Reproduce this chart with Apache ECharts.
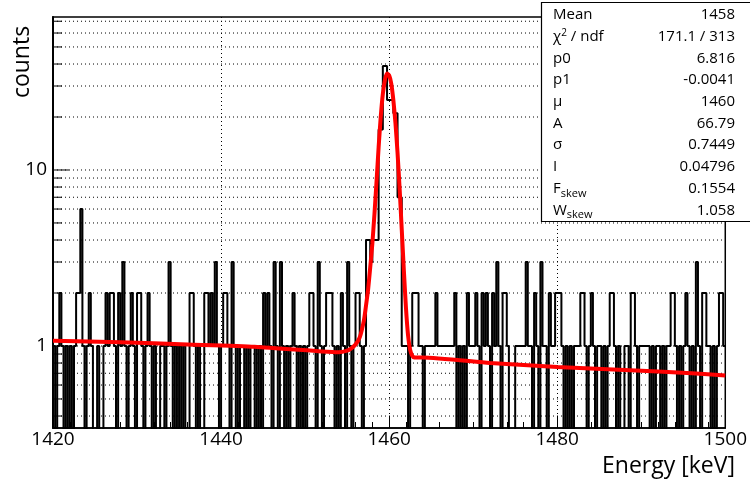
<!DOCTYPE html>
<html><head><meta charset="utf-8">
<script src="https://cdn.jsdelivr.net/npm/echarts@6/dist/echarts.min.js"></script>
<style>html,body{margin:0;padding:0;background:#fff}#c{width:750px;height:484px}</style>
</head><body><div id="c"></div>
<script>
const X_MIN = 1420, X_MAX = 1500, BIN_WIDTH = 0.25;
const Y_MIN = 0.342, Y_MAX = 74;
// counts per 0.25 keV bin
const counts1420 = [1,0,1,2,1,0,1,0,1,0,1,2,2,6,1,0,1,2,1,0,
  0,1,0,0,1,2,1,2,2,1,0,2,1,3,1,0,1,2,1,0,
  2,2,1,0,1,2,1,0,1,0,0,1,1,0,1,3,1,0,1,0,
  1,0,1,0,0,2,2,1,0,1,0,0,2,2,1,2,1,3,1,0];
const counts1440 = [1,2,2,1,0,3,1,0,1,0,0,1,0,1,0,0,1,0,1,0,
  2,1,2,1,0,3,1,0,3,1,0,1,0,1,2,1,0,1,0,1,
  0,1,2,2,1,0,3,1,0,1,2,2,2,1,0,1,0,2,1,0,
  3,1,0,1,2,2,1,0,1,4,4,3,4,4,4,17,17,39,39,25];
const counts1460 = [25,25,21,21,7,7,1,1,1,0,1,2,2,2,1,1,0,1,1,1,
  1,1,2,1,1,1,1,1,1,1,1,2,0,1,0,1,0,2,1,1,
  1,2,1,0,2,1,2,1,0,2,1,3,1,0,2,2,1,0,0,0,
  1,1,1,1,1,3,1,1,0,2,1,0,3,1,1,0,2,1,1,2];
const counts1480 = [2,2,1,0,1,0,1,0,1,1,1,2,2,1,0,1,2,1,0,1,
  1,0,1,0,1,2,2,1,0,1,0,0,1,1,0,2,2,1,0,1,
  1,1,1,1,0,1,0,1,1,0,1,0,1,1,2,2,1,0,1,0,
  1,2,1,0,1,0,3,1,0,2,2,1,1,0,1,0,1,2,2,1];
// fit curve
const fitX = [1420,1428,1436,1444,1452,1454,1455,1455.5,1456,1456.5,1457,1457.25,1457.5,1457.75,1458,1458.25,1458.5,1458.75,1459,1459.25,1459.5,1459.75,1460,1460.25,1460.5,1460.75,1461,1461.25,1461.5,1461.75,1462,1462.25,1462.5,1462.75,1463,1464,1472,1480,1488,1496,1500];
const fitY = [1.07,1.05,1.02,0.99,0.93,0.92,0.94,0.97,1.02,1.12,1.4,1.7,2.1,2.8,3.8,5.6,8.6,13.5,20,27,32.5,35.3,34.5,31,25,18.5,12.5,7.8,4.6,2.7,1.65,1.15,0.95,0.88,0.86,0.86,0.80,0.76,0.73,0.70,0.68];
const xTickValues = [1420,1440,1460,1480,1500];
const yLabelValues = [1, 10];
const yMinorValues = [0.4,0.5,0.6,0.7,0.8,0.9,2,3,4,5,6,7,8,9,20,30,40,50,60,70];
const statLabels = ['Mean','χ{sup|2} / ndf','p0','p1','μ','A','σ','I','F{sub|skew}','W{sub|skew}'];
const statValues = ['1458','171.1 / 313','6.816','-0.0041','1460','66.79','0.7449','0.04796','0.1554','1.058'];

const FONT = 'Open Sans';
const counts = counts1420.concat(counts1440, counts1460, counts1480);
const FLOOR = 0.01;
const histData = counts.map((c, i) => [X_MIN + i * BIN_WIDTH, c > 0 ? c : FLOOR]);
histData.push([X_MAX, counts[counts.length - 1] > 0 ? counts[counts.length - 1] : FLOOR]);
const fitData = fitX.map((x, i) => [x, fitY[i]]);
const gridValues = yMinorValues.concat(yLabelValues);

const chart = echarts.init(document.getElementById('c'), null, {renderer: 'canvas'});
const statRich = {
  sup: {fontSize: 10, verticalAlign: 'top', padding: [0,0,8,0], fontFamily: FONT},
  sub: {fontSize: 11, padding: [10,0,0,0], fontFamily: FONT}
};
const rowH = 21.7;
const ZB = 200;
const graphics = [
  {type: 'rect', z: ZB, shape: {x: 541.5, y: 2.5, width: 220, height: 219},
    style: {fill: '#fff', stroke: '#000', lineWidth: 1.2}},
  {type: 'text', z: ZB, x: 22, y: 62, rotation: Math.PI / 2,
    style: {text: 'counts', font: '23px ' + FONT, fill: '#000', align: 'center', verticalAlign: 'middle'}},
  {type: 'text', z: ZB, x: 735, y: 466,
    style: {text: 'Energy [keV]', font: '23px ' + FONT, fill: '#000', align: 'right', verticalAlign: 'middle'}}
];
statLabels.forEach((l, i) => {
  graphics.push({type: 'text', z: ZB + 1, x: 553, y: 15 + i * rowH,
    style: {text: l, font: '15px ' + FONT, fill: '#000', verticalAlign: 'middle', rich: statRich}});
  graphics.push({type: 'text', z: ZB + 1, x: 735, y: 15 + i * rowH,
    style: {text: statValues[i], font: '15px ' + FONT, fill: '#000', align: 'right', verticalAlign: 'middle'}});
});

chart.setOption({
  animation: false,
  backgroundColor: '#fff',
  grid: {left: 53, right: 15, top: 17, bottom: 56, show: true, borderColor: '#000', borderWidth: 1.5, backgroundColor: 'transparent'},
  xAxis: {
    type: 'value', min: X_MIN, max: X_MAX, interval: 20,
    axisLine: {lineStyle: {color: '#000', width: 1.5}},
    axisTick: {inside: true, length: 12, lineStyle: {color: '#000'}},
    minorTick: {show: true, splitNumber: 10, length: 6, lineStyle: {color: '#000'}},
    axisLabel: {color: '#000', fontSize: 19, fontFamily: FONT, margin: 2, formatter: v => String(v)},
    splitLine: {show: true, lineStyle: {color: '#000', type: [1, 3], width: 1}}
  },
  yAxis: {
    type: 'log', logBase: 10, min: Y_MIN, max: Y_MAX,
    axisLine: {lineStyle: {color: '#000', width: 2}},
    axisTick: {show: false},
    splitLine: {show: false},
    axisLabel: {color: '#000', fontSize: 19, fontFamily: FONT, margin: 6,
      formatter: v => { const l = Math.log10(v); return (Math.abs(l - Math.round(l)) < 1e-6 && yLabelValues.indexOf(Math.round(v)) >= 0) ? String(Math.round(v)) : ''; }}
  },
  series: [
    {type: 'custom', coordinateSystem: 'cartesian2d', silent: true, z: 1,
      data: gridValues.map(v => [X_MIN, v]),
      renderItem: (p, api) => {
        const v = api.value(1);
        const a = api.coord([X_MIN, v]), b = api.coord([X_MAX, v]);
        const major = yLabelValues.indexOf(v) >= 0;
        return {type: 'group', children: [
          {type: 'line', shape: {x1: a[0], y1: a[1], x2: b[0], y2: b[1]}, style: {stroke: '#000', lineWidth: 1, lineDash: [1, 3]}},
          {type: 'line', shape: {x1: a[0], y1: a[1], x2: a[0] + (major ? 16 : 9), y2: a[1]}, style: {stroke: '#000', lineWidth: 1}}
        ]};
      }},
    {type: 'line', data: histData, step: 'end', symbol: 'none', clip: true, z: 3,
      lineStyle: {color: '#000', width: 2}},
    {type: 'line', data: fitData, symbol: 'none', smooth: 0.2, clip: true, z: 4,
      lineStyle: {color: '#ff0000', width: 4}}
  ],
  graphic: graphics
});
</script></body></html>
